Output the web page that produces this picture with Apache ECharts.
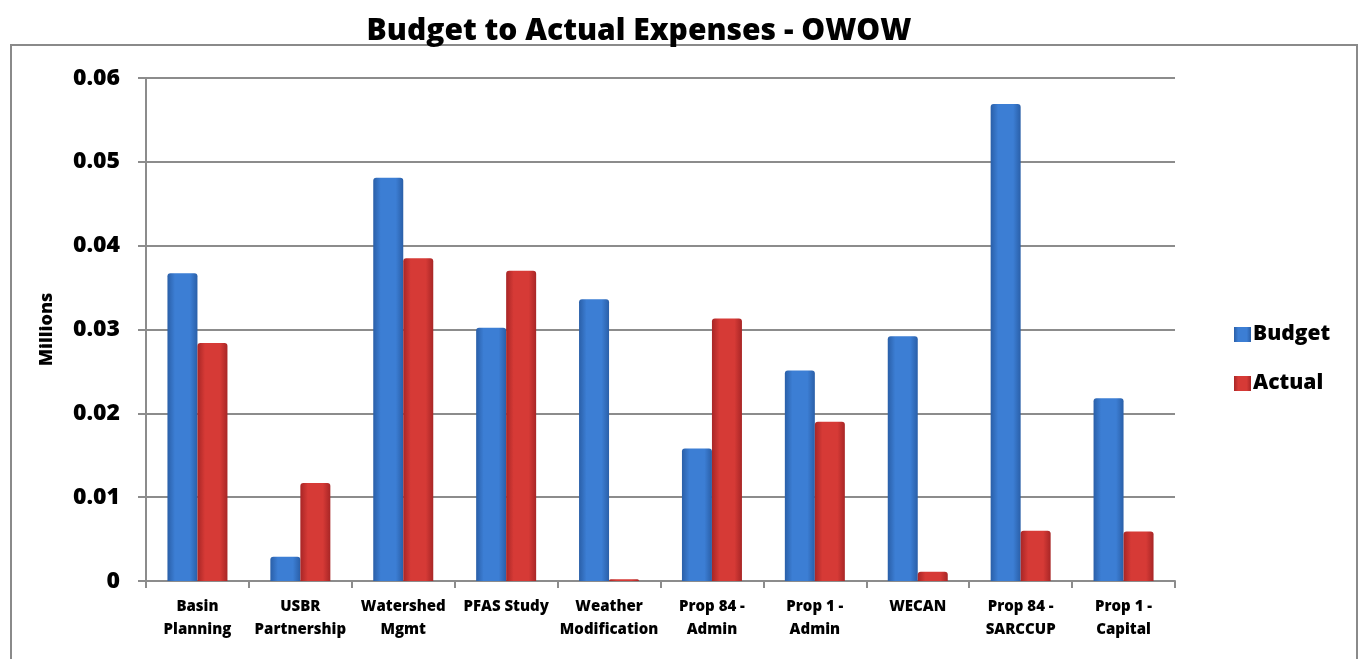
<!DOCTYPE html>
<html>
<head>
<meta charset="utf-8">
<script src="https://cdn.jsdelivr.net/npm/echarts@6/dist/echarts.min.js"></script>
<style>
  html, body { margin: 0; padding: 0; background: #fff; }
  #chart { width: 1358px; height: 659px; }
</style>
</head>
<body>
<div id="chart"></div>
<script>
// Expense categories (two-line labels)
const categories = [
  'Basin\nPlanning', 'USBR\nPartnership', 'Watershed\nMgmt', 'PFAS Study',
  'Weather\nModification', 'Prop 84 -\nAdmin', 'Prop 1 -\nAdmin', 'WECAN',
  'Prop 84 -\nSARCCUP', 'Prop 1 -\nCapital'
];
// Amounts in millions
const budget = [0.0367, 0.0029, 0.0481, 0.0302, 0.0336, 0.0158, 0.0251, 0.0292, 0.0569, 0.0218];
const actual = [0.0284, 0.0117, 0.0385, 0.0370, 0.0002, 0.0313, 0.0190, 0.0011, 0.0060, 0.0059];
const yTicks = [0, 0.01, 0.02, 0.03, 0.04, 0.05, 0.06];

const FONT = '"Open Sans", Lato, sans-serif';
const WEIGHT = 800;

function barFill(edge, mid) {
  return new echarts.graphic.LinearGradient(0, 0, 1, 0, [
    { offset: 0, color: edge },
    { offset: 0.25, color: mid },
    { offset: 0.75, color: mid },
    { offset: 1, color: edge }
  ]);
}
const blueFill = barFill('#2a5fa8', '#3c7ed4');
const redFill = barFill('#a82626', '#d63a36');

const chart = echarts.init(document.getElementById('chart'), null, { renderer: 'canvas' });
chart.setOption({
  animation: false,
  backgroundColor: '#ffffff',
  title: {
    text: 'Budget to Actual Expenses - OWOW',
    left: 634, top: 11, textAlign: 'center',
    textStyle: { fontFamily: FONT, fontWeight: WEIGHT, fontSize: 30, color: '#000' }
  },
  graphic: [{
    type: 'rect', silent: true, z: -1,
    shape: { x: 11, y: 45, width: 1346, height: 640 },
    style: { fill: 'none', stroke: '#8a8a8a', lineWidth: 2 }
  }],
  legend: {
    orient: 'vertical', left: 1229, top: 319, itemGap: 28,
    itemWidth: 17, itemHeight: 15, icon: 'rect',
    textStyle: { fontFamily: FONT, fontWeight: WEIGHT, fontSize: 21, color: '#000', padding: [0, 0, 0, -3] },
    data: [
      { name: 'Budget', itemStyle: { color: blueFill } },
      { name: 'Actual', itemStyle: { color: redFill } }
    ]
  },
  grid: { left: 146, right: 183, top: 78, bottom: 78 },
  xAxis: {
    type: 'category', data: categories,
    axisLine: { lineStyle: { color: '#8c8c8c', width: 2 } },
    axisTick: { show: true, length: 7, lineStyle: { color: '#8c8c8c', width: 2 } },
    axisLabel: { fontFamily: FONT, fontWeight: WEIGHT, fontSize: 15, color: '#000', margin: 14, lineHeight: 23, interval: 0 }
  },
  yAxis: {
    type: 'value', min: 0, max: 0.06, interval: 0.01,
    name: 'Millions', nameLocation: 'middle', nameGap: 90, nameRotate: 90,
    nameTextStyle: { fontFamily: FONT, fontWeight: WEIGHT, fontSize: 18, color: '#000' },
    axisLine: { show: true, lineStyle: { color: '#8c8c8c', width: 2 } },
    axisTick: { show: true, length: 8, lineStyle: { color: '#8c8c8c', width: 2 } },
    splitLine: { lineStyle: { color: '#8c8c8c', width: 2 } },
    axisLabel: {
      fontFamily: FONT, fontWeight: WEIGHT, fontSize: 23, color: '#000', margin: 26,
      formatter: v => {
        const t = yTicks.find(x => Math.abs(x - v) < 1e-9);
        return t === 0 ? '0' : String(+t.toFixed(2));
      }
    }
  },
  series: [
    { name: 'Budget', type: 'bar', data: budget, barWidth: 30, barGap: '0%',
      itemStyle: { color: blueFill, borderRadius: [3, 3, 0, 0] } },
    { name: 'Actual', type: 'bar', data: actual, barWidth: 30, barGap: '0%',
      itemStyle: { color: redFill, borderRadius: [3, 3, 0, 0] } }
  ]
});
</script>
</body>
</html>
